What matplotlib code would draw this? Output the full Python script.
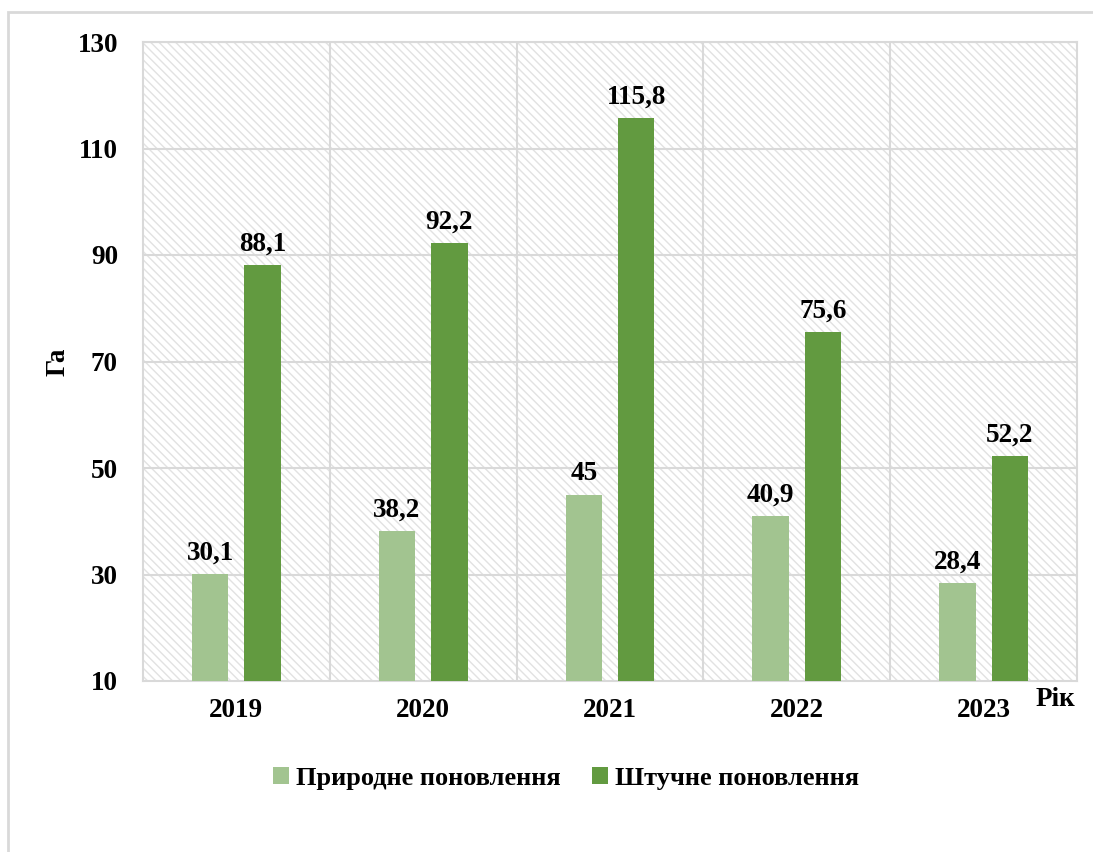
import numpy as np
import matplotlib.pyplot as plt
from matplotlib.patches import Rectangle

years = ['2019', '2020', '2021', '2022', '2023']
natural = [30.1, 38.2, 45, 40.9, 28.4]
artificial = [88.1, 92.2, 115.8, 75.6, 52.2]
natural_labels = ['30,1', '38,2', '45', '40,9', '28,4']
artificial_labels = ['88,1', '92,2', '115,8', '75,6', '52,2']

plt.rcParams['font.family'] = ['Liberation Serif', 'DejaVu Serif']
plt.rcParams['font.weight'] = 'bold'
plt.rcParams['hatch.linewidth'] = 1.0

c_light = '#a2c490'
c_dark = '#629a40'
c_grid = '#d9d9d9'
fs = 19.5

fig = plt.figure(figsize=(10.93, 8.52), dpi=100)
ax = fig.add_axes([143 / 1093, 1 - 681 / 852, (1077 - 143) / 1093, (681 - 42) / 852])

# outer frame (cut off at right and bottom like the reference)
fig.patches.append(Rectangle((8 / 1093, -0.1), 1.2, 1 - 12 / 852 + 0.1,
                             transform=fig.transFigure, fill=False,
                             edgecolor=c_grid, lw=2, zorder=0))

# hatched plot background
ax.set_facecolor('white')
ax.add_patch(Rectangle((0, 0), 1, 1, transform=ax.transAxes, facecolor='white',
                       edgecolor='#e2e2e2', hatch='\\\\\\\\', lw=0, zorder=0))

x = np.arange(len(years))
w = 0.195
off = 0.14
b1 = ax.bar(x - off, [v - 10 for v in natural], w, bottom=10, color=c_light,
            label='Природне поновлення', zorder=3)
b2 = ax.bar(x + off, [v - 10 for v in artificial], w, bottom=10, color=c_dark,
            label='Штучне поновлення', zorder=3)

for xi, v, t in zip(x - off, natural, natural_labels):
    ax.annotate(t, (xi, v), xytext=(0, 6), textcoords='offset points',
                ha='center', va='bottom', fontsize=fs, fontweight='bold', zorder=4)
for xi, v, t in zip(x + off, artificial, artificial_labels):
    ax.annotate(t, (xi, v), xytext=(0, 6), textcoords='offset points',
                ha='center', va='bottom', fontsize=fs, fontweight='bold', zorder=4)

ax.set_xlim(-0.5, len(years) - 0.5)
ax.set_ylim(10, 130)
ax.set_yticks(np.arange(10, 131, 20))
ax.set_xticks(x)
ax.set_xticklabels(years)
ax.tick_params(axis='both', length=0, labelsize=fs)
ax.tick_params(axis='y', pad=18)
ax.tick_params(axis='x', pad=12)

for yv in np.arange(30, 131, 20):
    ax.axhline(yv, color=c_grid, lw=1.5, zorder=1)
for xv in np.arange(0.5, len(years) - 0.5, 1):
    ax.axvline(xv, color=c_grid, lw=1.5, zorder=1)
for s in ax.spines.values():
    s.set_color(c_grid)
    s.set_linewidth(1.5)

ax.set_ylabel('Га', fontsize=fs, fontweight='bold')
ax.yaxis.set_label_coords((71 - 143) / 934, 0.5)
fig.text(1055 / 1093, 1 - 700 / 852, 'Рік', fontsize=fs, fontweight='bold',
         ha='center', va='center')

fig.legend(handles=[b1, b2], loc='center', bbox_to_anchor=(566 / 1093, 1 - 778 / 852),
           ncol=2, frameon=False, handlelength=0.6, handleheight=0.6,
           handletextpad=0.25, columnspacing=1.2,
           prop={'weight': 'bold', 'size': 19})

fig.savefig('out.png', dpi=100)
